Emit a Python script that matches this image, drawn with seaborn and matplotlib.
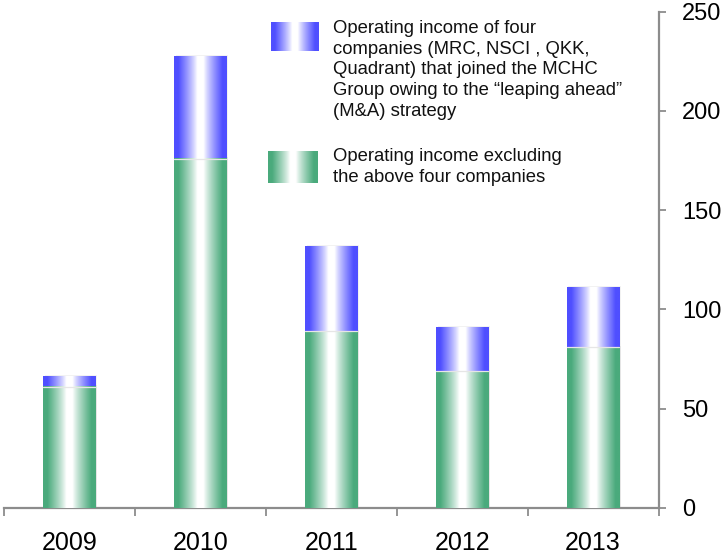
import numpy as np
import pandas as pd
import matplotlib
matplotlib.use("Agg")
import matplotlib.pyplot as plt
import seaborn as sns
from matplotlib.colors import LinearSegmentedColormap
from matplotlib.ticker import FixedLocator

# Operating income by fiscal year (billion yen)
years = ["2009", "2010", "2011", "2012", "2013"]
core_income = [61, 176, 89, 69, 81]            # excluding the four acquired companies
acquired_income = [5.5, 51.5, 43, 22, 30]      # MRC, NSCI, QKK, Quadrant
total_income = [c + a for c, a in zip(core_income, acquired_income)]

y_ticks = [0, 50, 100, 150, 200, 250]

label_acquired = ("Operating income of four\n"
                  "companies (MRC, NSCI , QKK,\n"
                  "Quadrant) that joined the MCHC\n"
                  "Group owing to the \u201cleaping ahead\u201d\n"
                  "(M&A) strategy")
label_core = "Operating income excluding\nthe above four companies"

blue = "#4F4FFF"
green = "#4AAA7C"
axis_grey = "#8C8C8C"

sns.set_theme(style="white")
plt.rcParams["font.family"] = ["Liberation Sans", "DejaVu Sans"]


def cylinder_cmap(color):
    """Dark edges fading to white in the middle of the bar."""
    return LinearSegmentedColormap.from_list("cyl", ["#FFFFFF", color])


def cylinder_row(n=200):
    x = np.linspace(0, 1, n)
    t = np.abs(x - 0.5) * 2
    v = np.clip((t - 0.12) / 0.72, 0, 1) ** 0.85
    return v[np.newaxis, :]


fig = plt.figure(figsize=(7.24, 5.57), dpi=100)
ax = fig.add_axes([4 / 724, 1 - 507.7 / 557, 654.5 / 724, 496 / 557])

df = pd.DataFrame({"year": years, "total": total_income, "core": core_income})

sns.barplot(data=df, x="year", y="total", color=blue, width=0.4,
            errorbar=None, ax=ax, saturation=1)
n_top = len(ax.patches)
sns.barplot(data=df, x="year", y="core", color=green, width=0.4,
            errorbar=None, ax=ax, saturation=1)

row = cylinder_row()
for i, patch in enumerate(ax.patches):
    cmap = cylinder_cmap(blue if i < n_top else green)
    z = 2 if i < n_top else 3
    x0, y0 = patch.get_x(), patch.get_y()
    w, h = patch.get_width(), patch.get_height()
    # soft drop shadow behind each bar
    ax.add_patch(plt.Rectangle((x0 + 0.012, y0), w, h + 0.6,
                               facecolor="#000000", alpha=0.05,
                               edgecolor="none", zorder=1))
    ax.imshow(row, extent=[x0, x0 + w, y0, y0 + h], cmap=cmap,
              vmin=0, vmax=1, aspect="auto", interpolation="bilinear",
              zorder=z)
    patch.set_zorder(z)
    patch.set_facecolor("none")
    patch.set_edgecolor("none")
    if i >= n_top:
        ax.plot([x0, x0 + w], [y0 + h, y0 + h], color="#E6E6E6",
                lw=0.9, zorder=3.5)

ax.set_xlim(-0.5, len(years) - 0.5)
ax.set_ylim(0, 250)
ax.set_xlabel("")
ax.set_ylabel("")

# axes styling
for side in ("left", "top"):
    ax.spines[side].set_visible(False)
for side in ("right", "bottom"):
    ax.spines[side].set_visible(True)
    ax.spines[side].set_color(axis_grey)
    ax.spines[side].set_linewidth(1.6)

ax.yaxis.tick_right()
ax.set_yticks(y_ticks)
ax.set_yticklabels([str(v) for v in y_ticks])
ax.tick_params(axis="y", which="major", direction="out", length=5,
               width=1.3, color=axis_grey, labelsize=17, pad=12,
               labelcolor="black", right=True, left=False)

ax.set_xticks(range(len(years)))
ax.set_xticklabels(years)
ax.xaxis.set_minor_locator(FixedLocator(np.arange(-0.5, len(years), 1.0)))
ax.tick_params(axis="x", which="major", length=0, labelsize=18, pad=17,
               labelcolor="black")
ax.tick_params(axis="x", which="minor", direction="out", length=6,
               width=1.3, color=axis_grey, bottom=True)
ax.grid(False)

# legend: gradient swatches with wrapped descriptions
for rect, color in (([271 / 724, 1 - 51 / 557, 47 / 724, 29 / 557], blue),
                    ([268 / 724, 1 - 183 / 557, 50 / 724, 32 / 557], green)):
    sw = fig.add_axes(rect)
    sw.imshow(row, cmap=cylinder_cmap(color), vmin=0, vmax=1,
              aspect="auto", interpolation="bilinear")
    sw.axis("off")

fig.text(333 / 724, 1 - 20 / 557, label_acquired, fontsize=13.3,
         va="top", ha="left", linespacing=1.28, color="#111111")
fig.text(333 / 724, 1 - 148 / 557, label_core, fontsize=13.3,
         va="top", ha="left", linespacing=1.28, color="#111111")

fig.savefig("out.png", dpi=100)
